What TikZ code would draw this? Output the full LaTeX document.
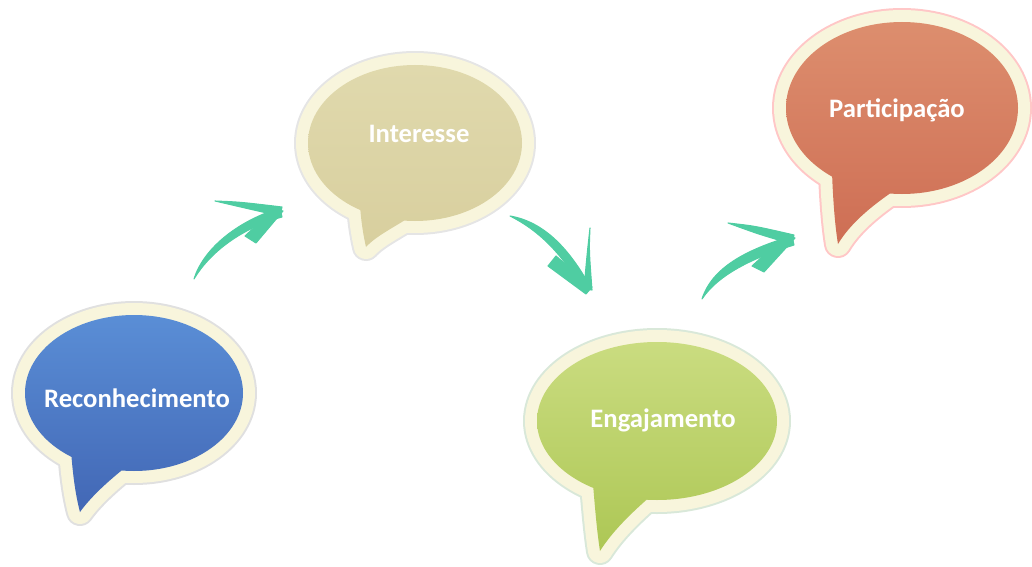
\documentclass[tikz,border=0pt]{standalone}
\usepackage{fontspec}
\setmainfont{Carlito}
\definecolor{cream}{HTML}{F8F5DC}
\definecolor{arrowgreen}{HTML}{4FCDA2}
\definecolor{blueT}{HTML}{5A8ED6}
\definecolor{blueB}{HTML}{4267B5}
\definecolor{khakiT}{HTML}{E0D9AD}
\definecolor{khakiB}{HTML}{D8CF9E}
\definecolor{greenT}{HTML}{CADC80}
\definecolor{greenB}{HTML}{ADC755}
\definecolor{orangeT}{HTML}{DD8E6E}
\definecolor{orangeB}{HTML}{CE6E54}
\tikzset{
  halo/.style={line width=21pt, line join=round},
  rim/.style={draw=cream, fill=cream, line width=18pt, line join=round},
  bubbletext/.style={text=white, font=\bfseries\fontsize{20}{24}\selectfont, inner sep=0pt},
  brush/.style={fill=arrowgreen, draw=arrowgreen, line width=0.8pt, line join=round},
}
\newcommand\speechbubble[7]{%
  \path[halo, draw=#7, fill=#7] (#1) ellipse [x radius=#2, y radius=#3] #4;
  \path[rim] (#1) ellipse [x radius=#2, y radius=#3] #4;
  \shade[top color=#5, bottom color=#6] (#1) ellipse [x radius=#2, y radius=#3] #4;
}
\begin{document}
\begin{tikzpicture}[x=0.75pt,y=-0.75pt]
\useasboundingbox (0,0) rectangle (1032,567);
% bubble 1: Reconhecimento
\speechbubble{134,393}{109}{78}{(132,462) .. controls (112,478) and (93,494) .. (80,512) .. controls (76,497) and (73,478) .. (71,450) -- cycle}{blueT}{blueB}{black!12}
\node[bubbletext] (rec) at (137,398) {Reconhecimento};
% bubble 2: Interesse
\speechbubble{415,143}{107}{78}{(413,215) .. controls (393,228) and (376,236) .. (366,247) .. controls (363,234) and (361,220) .. (360,205) -- cycle}{khakiT}{khakiB}{black!10}
\node[bubbletext] (int) at (419,134) {Interesse};
% bubble 3: Engajamento
\speechbubble{657,421}{120}{79}{(652,495) .. controls (630,514) and (612,532) .. (600,551) .. controls (597,532) and (595,508) .. (593,484) -- cycle}{greenT}{greenB}{green!40!black!15}
\node[bubbletext] (eng) at (663,420) {Engajamento};
% bubble 4: Participacao
\speechbubble{902,108}{116}{86}{(895,190) .. controls (870,207) and (850,224) .. (838,244) .. controls (835,226) and (833,200) .. (832,172) -- cycle}{orangeT}{orangeB}{red!22}
\node[bubbletext] (par) at (897,110) {Participação};
% arrow 1
\path[brush] (194,279) .. controls (203,250) and (235,222) .. (280,208) -- (282,217) .. controls (242,228) and (210,252) .. (194,279) -- cycle;
\path[brush] (215,201) .. controls (240,202) .. (282,207) -- (280,216) .. controls (245,208) .. (215,201) -- cycle;
\path[brush] (283,211) -- (256,243) -- (245,236) -- (274,209) -- cycle;
% arrow 2
\path[brush] (510,216) .. controls (545,222) and (570,250) .. (591,288) -- (583,291) .. controls (565,258) and (542,232) .. (510,216) -- cycle;
\path[brush] (548,266) -- (556,256) -- (592,287) -- (586,294) -- cycle;
\path[brush] (590,228) .. controls (589,250) .. (592,290) -- (584,289) .. controls (587,255) .. (590,228) -- cycle;
% arrow 3
\path[brush] (702,299) .. controls (712,268) and (745,250) .. (792,236) -- (794,245) .. controls (752,258) and (718,275) .. (702,299) -- cycle;
\path[brush] (728,223) .. controls (755,226) .. (794,235) -- (792,244) .. controls (758,234) .. (728,223) -- cycle;
\path[brush] (795,238) -- (764,272) -- (752,266) -- (786,235) -- cycle;
\end{tikzpicture}
\end{document}
